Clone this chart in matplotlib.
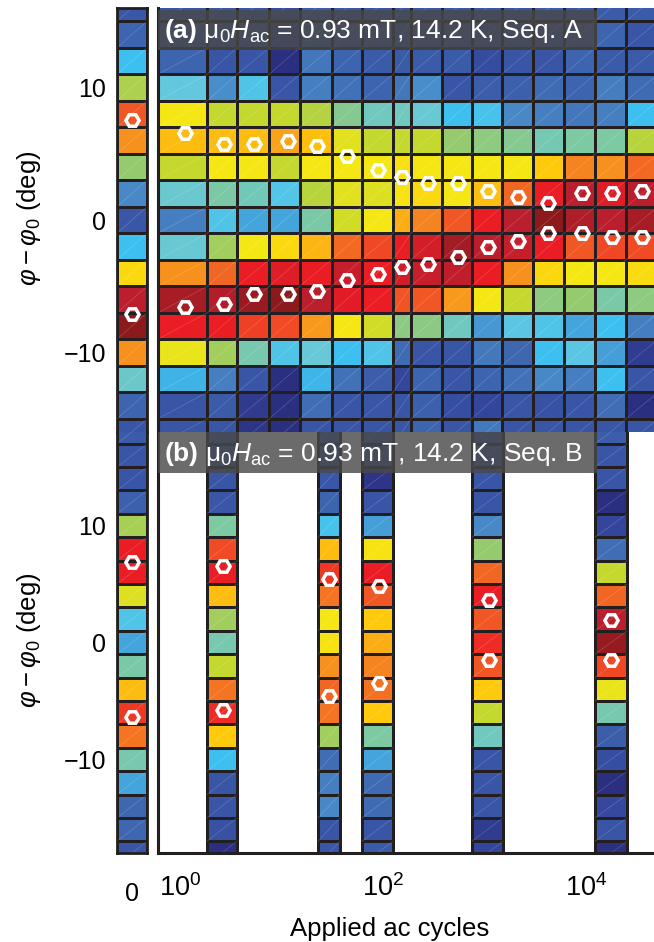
import numpy as np
import matplotlib
matplotlib.use('Agg')
import matplotlib.pyplot as plt
from matplotlib.colors import LinearSegmentedColormap, Normalize
from matplotlib.collections import LineCollection
from matplotlib.patches import Rectangle
from matplotlib.ticker import NullLocator, FixedLocator

plt.rcParams['font.family'] = ['Liberation Sans', 'DejaVu Sans']
plt.rcParams['mathtext.fontset'] = 'custom'
plt.rcParams['mathtext.rm'] = 'Liberation Sans'
plt.rcParams['mathtext.it'] = 'Liberation Sans:italic'
plt.rcParams['mathtext.bf'] = 'Liberation Sans:bold'

# colour scale for the histogram weight, low (0) to high (16)
scale_colors = ['#2b2f7f', '#34469c', '#3d64ae', '#4888c7', '#44a5dc', '#3cc0ef',
                '#63c8df', '#74c8b4', '#95ca71', '#c2d72f', '#f5e814', '#ffcc0a',
                '#f7941d', '#f15a24', '#ed1c24', '#be1e2d', '#8c1a1d']

# phase bins (deg), 2 deg wide
phi_a = [16, 14, 12, 10, 8, 6, 4, 2, 0, -2, -4, -6, -8, -10, -12, -14, -16]
phi_b = [18, 16, 14, 12, 10, 8, 6, 4, 2, 0, -2, -4, -6, -8, -10, -12, -14, -16, -18]

# ---- (a) Seq. A ----
cycles_a = [1.12, 2.71, 5.35, 11.6, 22.4, 44.1, 89.2, 154, 277, 549, 1085, 2150,
            4270, 9120, 17960, 35500]
edges_a = [0.61, 1.86, 3.67, 7.6, 15.2, 31.2, 61.7, 126, 189, 379, 748, 1480,
           3020, 6110, 12300, 24800, 51200]
weight_a0 = [1.6, 2.0, 5.0, 8.5, 13.0, 12.0, 8.0, 3.0, 1.6, 5.0, 10.5, 15.0, 16.0,
             12.0, 6.5, 2.0, 1.5]
weight_a = [
    [1.5, 1.6, 1.5, 1.2, 1.8, 1.6, 1.5, 1.5, 1.6, 1.6, 1.5, 1.5, 1.8, 1.5, 1.7, 1.7],
    [1.8, 1.5, 1.5, 1.0, 2.0, 1.8, 1.6, 1.6, 1.5, 1.5, 1.5, 1.5, 1.6, 1.7, 2.0, 1.5],
    [2.0, 1.5, 1.5, 0.0, 2.5, 2.0, 1.7, 1.7, 1.7, 1.7, 1.2, 1.5, 1.5, 2.0, 1.7, 1.7],
    [6.0, 3.2, 5.5, 1.5, 2.8, 2.4, 2.0, 2.5, 3.2, 1.5, 1.8, 1.9, 2.2, 2.0, 2.7, 2.2],
    [10.0, 9.0, 9.0, 9.0, 8.7, 7.5, 6.8, 6.8, 6.3, 5.0, 5.3, 3.0, 2.8, 2.5, 2.8, 5.0],
    [11.3, 11.3, 11.3, 11.7, 11.2, 9.6, 9.0, 9.0, 9.0, 8.0, 7.8, 7.5, 7.0, 7.3, 7.3, 8.8],
    [9.0, 10.0, 10.0, 9.0, 10.0, 10.0, 10.0, 10.3, 10.0, 10.0, 10.0, 10.0, 11.0, 12.3, 12.0, 12.7],
    [6.4, 7.2, 6.9, 5.6, 8.8, 9.6, 9.5, 10.2, 10.5, 10.0, 11.2, 12.8, 14.0, 15.0, 14.3, 15.0],
    [2.8, 5.5, 4.0, 4.0, 7.2, 9.3, 10.0, 11.5, 12.3, 13.0, 14.0, 15.0, 16.0, 15.3, 15.0, 15.4],
    [6.3, 8.3, 10.0, 10.5, 11.4, 12.7, 13.3, 14.0, 14.5, 15.5, 15.0, 14.8, 14.0, 13.0, 13.3, 13.2],
    [12.0, 12.8, 14.0, 14.3, 14.0, 14.8, 14.0, 14.6, 14.8, 14.9, 14.0, 12.0, 10.6, 10.0, 10.0, 10.4],
    [15.4, 15.2, 15.7, 16.0, 15.0, 14.2, 14.0, 13.1, 13.0, 11.9, 10.0, 9.0, 7.8, 8.0, 7.2, 7.8],
    [14.0, 14.0, 13.4, 13.2, 11.9, 10.0, 9.3, 7.7, 7.7, 6.8, 3.5, 5.8, 5.5, 4.0, 5.0, 2.8],
    [9.8, 8.3, 7.1, 5.5, 6.2, 5.0, 5.5, 2.2, 1.5, 1.5, 2.6, 2.1, 5.0, 5.8, 3.8, 0.6],
    [4.5, 2.8, 1.5, 0.0, 4.6, 2.4, 1.8, 1.0, 2.0, 1.5, 2.0, 2.4, 3.0, 2.8, 5.0, 1.5],
    [1.5, 1.7, 0.5, 0.0, 2.3, 1.5, 1.5, 1.5, 1.9, 1.3, 1.0, 1.5, 1.4, 1.5, 2.3, 0.0],
    [1.5, 1.5, 0.3, 0.0, 1.5, 1.5, 1.5, 1.5, 2.0, 1.5, 2.6, 1.5, 1.5, 1.5, 1.5, 1.5],
]
peak_a0 = [7.58, -7.13]
peak_hi_a = [6.6, 5.76, 5.76, 6.0, 5.6, 4.85, 3.8, 3.26, 2.8, 2.8, 2.2, 1.74, 1.29,
             2.05, 2.05, 2.2]
peak_lo_a = [-6.6, -6.37, -5.6, -5.6, -5.38, -4.55, -4.09, -3.56, -3.34, -2.81,
             -2.05, -1.59, -0.99, -0.99, -1.29, -1.29]

# ---- (b) Seq. B ----
cycles_b = [2.65, 29.4, 91.5, 1107, 17700]
strip_lo = [1.85, 22.9, 62.1, 753, 12270]
strip_hi = [3.64, 37.7, 125.5, 1521, 25350]
weight_b0 = [1.7, 1.5, 1.5, 1.9, 8.4, 14.0, 14.0, 9.5, 5.5, 4.0, 7.2, 11.3, 13.5,
             12.5, 7.1, 4.0, 2.1, 2.1, 1.5]
weight_b = [
    [1.5, 1.5, 1.5, 1.5, 1.8],
    [1.5, 1.5, 1.5, 1.5, 1.5],
    [1.5, 1.6, 0.3, 1.5, 1.5],
    [1.6, 2.0, 1.5, 1.5, 0.0],
    [7.3, 5.3, 3.8, 3.0, 1.0],
    [13.2, 11.3, 10.2, 8.0, 2.3],
    [14.0, 13.5, 14.0, 12.8, 9.0],
    [11.3, 12.5, 13.0, 14.0, 12.8],
    [8.3, 10.0, 11.0, 13.0, 15.0],
    [7.1, 10.2, 11.5, 13.7, 15.8],
    [9.0, 12.0, 12.3, 13.0, 13.3],
    [12.5, 12.8, 12.6, 11.0, 9.8],
    [13.7, 12.5, 11.0, 9.0, 7.1],
    [11.0, 8.3, 7.3, 6.8, 1.8],
    [5.0, 2.3, 4.0, 1.5, 1.3],
    [1.5, 2.8, 2.2, 1.5, 0.0],
    [1.5, 3.0, 2.2, 1.5, 1.1],
    [1.4, 1.5, 1.5, 0.6, 1.5],
    [0.0, 1.6, 1.7, 1.0, 0.1],
]
peak_b0 = [6.85, -6.4]
peak_hi_b = [6.57, 5.45, 4.85, 3.65, 1.93]
peak_lo_b = [-5.8, -4.6, -3.45, -1.5, -1.5]

titles = [r'$\mathbf{(a)}$ $\mathrm{\mu}_0H_\mathrm{ac}$ = 0.93 mT, 14.2 K, Seq. A',
          r'$\mathbf{(b)}$ $\mathrm{\mu}_0H_\mathrm{ac}$ = 0.93 mT, 14.2 K, Seq. B']

cmap = LinearSegmentedColormap.from_list('weight', scale_colors)
norm = Normalize(0, 16)
EDGE = '#231f20'
W, H = 654, 942


def box(x0, y0, x1, y1):
    # pixel box (top-left origin) -> figure fraction
    return [x0 / W, (H - y1) / H, (x1 - x0) / W, (y1 - y0) / H]


def row_edges(phi):
    phi = np.asarray(phi, float)
    return np.r_[phi[0] + 1, phi - 1]


def cells(ax, xe, ye, c):
    c = np.asarray(c, float)
    ax.pcolormesh(xe, ye, c, cmap=cmap, norm=norm, edgecolors=EDGE,
                  linewidth=2.0, zorder=1)
    # faint diagonal in every cell
    segs = []
    for i in range(len(ye) - 1):
        lo, hi = min(ye[i], ye[i + 1]), max(ye[i], ye[i + 1])
        for j in range(len(xe) - 1):
            segs.append([(xe[j], lo), (xe[j + 1], hi)])
    ax.add_collection(LineCollection(segs, colors='white', alpha=0.2,
                                     linewidths=0.5, zorder=1.5))


def peaks(ax, x, y):
    ax.plot(x, y, ls='none', marker='H', ms=9.5, mfc='none', mec='white',
            mew=2.5, zorder=3)


fig = plt.figure(figsize=(W / 100, H / 100), dpi=100)
ax_la = fig.add_axes(box(117, 8, 147, 432))
ax_ma = fig.add_axes(box(158, 8, 658, 432))
ax_lb = fig.add_axes(box(117, 432, 147, 853))
ax_mb = fig.add_axes(box(158, 432, 658, 853))

ye_a = row_edges(phi_a)
ye_b = row_edges(phi_b)

# zero-cycle columns
cells(ax_la, [-0.5, 0.5], ye_a, np.array(weight_a0)[:, None])
peaks(ax_la, [0, 0], peak_a0)
cells(ax_lb, [-0.5, 0.5], ye_b, np.array(weight_b0)[:, None])
peaks(ax_lb, [0, 0], peak_b0)

# sequence A: full cycle grid
cells(ax_ma, edges_a, ye_a, weight_a)
peaks(ax_ma, cycles_a, peak_hi_a)
peaks(ax_ma, cycles_a, peak_lo_a)

# sequence B: isolated strips
wb = np.asarray(weight_b, float)
for k in range(len(cycles_b)):
    cells(ax_mb, [strip_lo[k], strip_hi[k]], ye_b, wb[:, k:k + 1])
peaks(ax_mb, cycles_b, peak_hi_b)
peaks(ax_mb, cycles_b, peak_lo_b)

for ax, ylim in [(ax_la, (-16, 16)), (ax_lb, (-18, 18))]:
    ax.set_xlim(-0.5, 0.5)
    ax.set_ylim(*ylim)
    ax.set_yticks([-10, 0, 10])
    ax.tick_params(axis='y', length=0, pad=8, labelsize=18)
    ax.tick_params(axis='x', length=0)
    for s in ax.spines.values():
        s.set_color(EDGE)
        s.set_linewidth(2.0)

ax_la.set_xticks([])
ax_lb.set_xticks([0])
ax_lb.tick_params(axis='x', labelsize=18, pad=21)
ax_la.spines['bottom'].set_visible(False)
ax_lb.spines['top'].set_visible(False)

for ax, ylim in [(ax_ma, (-16, 16)), (ax_mb, (-18, 18))]:
    ax.set_xscale('log')
    ax.set_xlim(edges_a[0], edges_a[-1])
    ax.set_ylim(*ylim)
    ax.set_yticks([])
    ax.xaxis.set_minor_locator(NullLocator())
    ax.tick_params(length=0)
    for s in ['top', 'right']:
        ax.spines[s].set_visible(False)
    for s in ['left', 'bottom']:
        ax.spines[s].set_color(EDGE)
        ax.spines[s].set_linewidth(2.2)

ax_ma.set_xticks([])
ax_ma.spines['bottom'].set_visible(False)
ax_mb.xaxis.set_major_locator(FixedLocator([1, 100, 10000]))
ax_mb.tick_params(axis='x', labelsize=19.5, pad=15)

# title bars
for ax, y0, y1, title in [(ax_ma, 0.901, 0.995, titles[0]),
                          (ax_mb, 0.9026, 1.0, titles[1])]:
    ax.add_patch(Rectangle((0, y0), 0.878, y1 - y0, transform=ax.transAxes,
                           facecolor='#494949', alpha=0.81, edgecolor='none',
                           zorder=4))
    ax.text(0.011, y0 + 0.045, title, transform=ax.transAxes, color='white',
            fontsize=19, ha='left', va='center', zorder=5)

ylab = r'$\varphi - \varphi_0$ (deg)'
fig.text(29 / W, (H - 218) / H, ylab, rotation=90, fontsize=18.5,
         ha='center', va='center')
fig.text(29 / W, (H - 640) / H, ylab, rotation=90, fontsize=18.5,
         ha='center', va='center')
fig.text(390 / W, (H - 936) / H, 'Applied ac cycles', fontsize=18.5,
         ha='center', va='baseline')

fig.savefig('out.png', dpi=100)
